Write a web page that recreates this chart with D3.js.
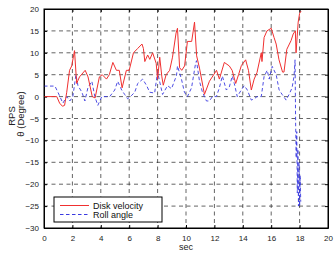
<!DOCTYPE html>
<html>
<head>
<meta charset="utf-8">
<script src="https://d3js.org/d3.v7.min.js"></script>
<style>
  body { margin: 0; background: #fff; }
  svg { font-family: "Liberation Sans", Arial, sans-serif; }
</style>
</head>
<body>
<svg id="chart" width="334" height="254"></svg>
<script>
// time (s) and value pairs
var diskT = [0,0.9,1.1,1.3,1.45,1.6,1.8,1.95,2.15,2.3,2.5,2.9,3.1,3.4,3.6,3.9,4.1,4.4,4.6,4.85,5.1,5.3,5.5,5.8,6.0,6.3,6.6,6.9,7.0,7.1,7.3,7.45,7.65,7.9,8.0,8.15,8.3,8.4,8.6,8.85,9.05,9.3,9.4,9.55,9.7,9.9,10.1,10.4,10.6,10.75,10.95,11.3,11.65,12.15,12.35,12.7,13.05,13.25,13.5,13.7,13.9,14.2,14.4,14.6,14.8,15.0,15.3,15.35,15.5,15.7,16.0,16.2,16.35,16.55,16.8,16.9,17.1,17.4,17.55,17.7,17.75,17.9,18.0,18.1];
var diskV = [0,0,-1.5,-2.2,-2,1,6,7,10.5,3,4.5,6,4.5,0,-0.3,4.5,5,4,5,7.8,6,6,2,6,6,10,11,12,11,8,9.5,8.5,10,7.6,4,9,4.5,2.6,5,6,9,14.5,15.6,6.6,6,7,12.6,12.6,17,9.3,6.5,0.5,3.5,6,4,7.8,7,6,3,5,7.1,8.4,6,1.5,4,5.5,10,8,13.5,15,15.6,13.5,12,8.4,5.6,5.6,10.8,12.8,14.3,15,10,17,19,19.5];

var rollT = [0,0.77,0.98,1.33,1.6,1.82,2.03,2.25,2.39,2.67,2.88,3.09,3.37,3.58,3.79,4.07,4.42,4.63,4.98,5.19,5.47,5.68,5.89,6.18,6.39,6.6,6.95,7.23,7.44,7.79,8.0,8.14,8.35,8.7,8.98,9.33,9.4,9.68,9.89,10.1,10.39,10.67,10.74,10.95,11.16,11.44,11.65,11.86,12.14,12.35,12.56,12.84,13.05,13.26,13.4,13.61,13.89,14.1,14.32,14.6,14.8,15.0,15.3,15.5,15.72,15.86,16.07,16.35,16.56,16.77,17.05,17.26,17.47,17.61,17.68,17.72,17.76,17.8,17.84,17.88,17.92,17.96,18.0,18.04,18.08];
var rollV = [2.4,2.4,1,-1.5,0,-1,0,5,2.5,1,-1,2,3.5,0,-2,0,0,0,1.5,3.5,1.5,0.5,-0.5,0.3,1,3,4,2.5,1,0.8,5.6,3.5,0.5,2.5,1.8,4.8,7,4,1,0,2,7.5,8.2,3.5,1,-1,-1,0,0,2,4.7,1.5,2.2,4.7,3,0,1.5,2.5,1.5,-0.8,-0.5,0,0,4.6,6,4,6.9,5,1.5,0.5,-0.8,0.5,2,4.7,8.4,-6,-14,-8,-22,-12,-25,-15,-25,-18,-24];

var xTicks = [0,2,4,6,8,10,12,14,16,18,20];
var yTicks = [-30,-25,-20,-15,-10,-5,0,5,10,15,20];
var seriesNames = ["Disk velocity", "Roll angle"];

(function() {
var svg = d3.select("#chart");
var pL = 44, pR = 328, pT = 9, pB = 228;

var x = d3.scaleLinear().domain([0, 20]).range([pL, pR]);
var y = d3.scaleLinear().domain([-30, 20]).range([pB, pT]);

// grid
var grid = svg.append("g").attr("stroke", "#222").attr("stroke-width", 0.7).attr("stroke-dasharray", "4,3.5");
grid.selectAll(".gx").data(xTicks.slice(1, -1)).enter().append("line")
  .attr("x1", function(d){ return x(d); }).attr("x2", function(d){ return x(d); })
  .attr("y1", pT).attr("y2", pB);
grid.selectAll(".gy").data(yTicks.slice(1, -1)).enter().append("line")
  .attr("y1", function(d){ return y(d); }).attr("y2", function(d){ return y(d); })
  .attr("x1", pL).attr("x2", pR);

// axes (ticks inward)
svg.append("g").attr("transform", "translate(0," + pB + ")")
  .call(d3.axisBottom(x).tickValues(xTicks).tickSizeInner(-3).tickSizeOuter(0).tickPadding(7));
svg.append("g").attr("transform", "translate(" + pL + ",0)")
  .call(d3.axisLeft(y).tickValues(yTicks).tickSizeInner(-3).tickSizeOuter(0).tickPadding(5));
svg.append("g").attr("transform", "translate(0," + pT + ")")
  .call(d3.axisTop(x).tickValues(xTicks).tickSizeInner(-3).tickSizeOuter(0).tickFormat(""));
svg.append("g").attr("transform", "translate(" + pR + ",0)")
  .call(d3.axisRight(y).tickValues(yTicks).tickSizeInner(-3).tickSizeOuter(0).tickFormat(""));
svg.selectAll(".domain").attr("stroke", "#000");
svg.selectAll(".tick line").attr("stroke", "#000");
svg.selectAll(".tick text").attr("fill", "#222").style("font-size", "8px")
  .style("font-family", "Liberation Sans, Arial, sans-serif");

// lines
var disk = diskT.map(function(t, i){ return [t, diskV[i]]; });
var roll = rollT.map(function(t, i){ return [t, rollV[i]]; });
var line = d3.line().x(function(d){ return x(d[0]); }).y(function(d){ return y(d[1]); });

svg.append("path").datum(roll).attr("d", line)
  .attr("fill", "none").attr("stroke", "#3a3ae0").attr("stroke-width", 0.9).attr("stroke-dasharray", "3.5,2.5");
svg.append("path").datum(disk).attr("d", line)
  .attr("fill", "none").attr("stroke", "#f03030").attr("stroke-width", 1);

// frame
svg.append("rect").attr("x", pL).attr("y", pT).attr("width", pR - pL).attr("height", pB - pT)
  .attr("fill", "none").attr("stroke", "#000").attr("stroke-width", 1);

// legend
var lg = svg.append("g");
lg.append("rect").attr("x", 54).attr("y", 197).attr("width", 108).attr("height", 25)
  .attr("fill", "#fff").attr("stroke", "#000").attr("stroke-width", 1);
var colors = ["#f03030", "#3a3ae0"];
var dashes = ["none", "3.5,2.5"];
seriesNames.forEach(function(n, i){
  var yy = 205.5 + i * 9;
  lg.append("line").attr("x1", 60).attr("x2", 89).attr("y1", yy).attr("y2", yy)
    .attr("stroke", colors[i]).attr("stroke-width", 1).attr("stroke-dasharray", dashes[i]);
  lg.append("text").attr("x", 93).attr("y", yy + 3).text(n)
    .style("font-size", "9px").attr("fill", "#111");
});

// labels
svg.append("text").attr("x", x(10)).attr("y", 250).attr("text-anchor", "middle")
  .style("font-size", "9px").attr("fill", "#222").text("sec");
svg.append("text").attr("transform", "translate(15,116) rotate(-90)").attr("text-anchor", "middle")
  .style("font-size", "9.5px").attr("fill", "#222").text("RPS");
svg.append("text").attr("transform", "translate(24,114) rotate(-90)").attr("text-anchor", "middle")
  .style("font-size", "9.5px").attr("fill", "#222").text("θ (Degree)");
})();
</script>
</body>
</html>
